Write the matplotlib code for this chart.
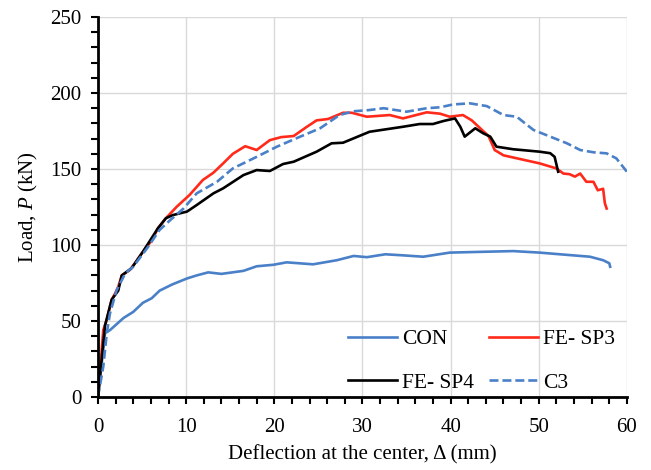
import matplotlib
matplotlib.use('Agg')
import matplotlib.pyplot as plt
from matplotlib.ticker import MultipleLocator

plt.rcParams['font.family'] = ['Liberation Serif', 'DejaVu Serif']
plt.rcParams['mathtext.fontset'] = 'custom'
plt.rcParams['mathtext.rm'] = 'Liberation Serif'
plt.rcParams['mathtext.it'] = 'Liberation Serif:italic'

# CON
con_x = [0, 0.8, 1.36, 2.9, 4.0, 5.1, 6.1, 7.0, 8.4, 10.1, 11.2, 12.5, 14.0, 16.5, 18.0,
         19.9, 21.4, 24.4, 27.1, 29.0, 30.5, 32.6, 34.6, 36.9, 39.9, 44.1, 47.1, 50.1,
         52.4, 55.8, 57.3, 58.0, 58.1]
con_y = [0, 42, 44, 52, 56, 62, 65, 70, 74, 78, 80, 82, 81, 83, 86,
         87, 88.6, 87.3, 90, 92.8, 92, 93.9, 93.2, 92.3, 95, 95.6, 96, 95,
         93.9, 92.3, 90, 88, 85.7]

# FE- SP3
sp3_x = [0, 0.6, 1.0, 1.55, 1.93, 2.3, 2.7, 3.6, 4.2, 5.1, 6.1, 6.8, 7.7, 8.9, 10.4,
         11.9, 13.1, 14.2, 15.3, 16.7, 18.0, 19.5, 20.8, 22.2, 23.7, 24.8, 26.1, 27.8,
         28.8, 30.5, 33.1, 34.6, 37.3, 38.8, 39.9, 41.4, 42.4, 44.3, 45.0, 46.0, 50.1,
         52.0, 52.8, 53.5, 54.1, 54.7, 55.4, 56.2, 56.7, 57.3, 57.5, 57.7]
sp3_y = [0, 44, 51, 64, 68, 72.6, 80, 83.5, 88, 95.6, 103, 111, 117.6, 125, 133,
         142.8, 147.6, 153.7, 160, 165, 162.5, 169, 171, 171.7, 177.8, 182, 182.9, 187,
         187, 184.4, 185.5, 183.3, 187.3, 186.4, 184.4, 185.5, 182, 171.7, 162.5, 159, 153.7,
         150.4, 147, 146.6, 145, 147, 141.6, 141.6, 136, 137, 127.4, 124]

# FE- SP4
sp4_x = [0, 0.8, 1.55, 2.3, 2.7, 3.8, 5.1, 6.8, 7.7, 8.5, 10.1, 11.2, 13.1, 14.2, 16.5,
         18.0, 19.5, 21.0, 22.2, 24.8, 26.5, 27.8, 30.8, 34.6, 36.5, 38.0, 39.2, 40.5,
         41.1, 41.6, 42.8, 43.7, 44.5, 45.2, 47.1, 50.1, 51.3, 51.8, 52.2]
sp4_y = [0, 47, 64, 70, 80, 84.7, 95.6, 111, 117.6, 119.7, 122, 126.3, 134, 137.3, 146,
         149.3, 148.7, 153.3, 154.8, 161.4, 166.9, 167.3, 174.5, 177.8, 179.6, 179.6, 181.6, 183.3,
         177.8, 171.3, 176.8, 173.5, 171.3, 164.7, 163, 161.4, 160.4, 158, 148.2]

# C3
c3_x = [0, 0.6, 1.0, 1.36, 2.1, 3.1, 4.0, 5.7, 7.0, 8.2, 9.7, 11.2, 13.5, 15.3, 18.0,
        20.3, 22.5, 25.2, 27.4, 29.0, 30.8, 32.4, 35.0, 37.3, 38.8, 40.3, 42.2, 44.1,
        46.0, 47.5, 49.4, 51.3, 53.2, 54.7, 56.2, 57.7, 58.8, 60.0]
c3_y = [0, 20, 42, 55, 70, 81.4, 85.7, 98.9, 110, 116.4, 124, 134, 141.6, 150.4, 158,
        164.7, 170.2, 176.8, 185.5, 188, 188.8, 190, 187.7, 190, 190.6, 192.5, 193.2, 191.4,
        185.5, 184.4, 175.7, 171.3, 166.9, 162.5, 161, 160.3, 157, 148.2]

blue = '#4a80c8'
fs = 15
fig = plt.figure(figsize=(6.51, 4.70), dpi=100)
ax = fig.add_axes([0.1505, 0.1553, 0.8125, 0.8085])

l_con, = ax.plot(con_x, con_y, color=blue, lw=1.9, label='CON')
l_sp3, = ax.plot(sp3_x, sp3_y, color='#ff2a1a', lw=1.9, label='FE- SP3')
l_sp4, = ax.plot(sp4_x, sp4_y, color='black', lw=1.9, label='FE- SP4')
l_c3, = ax.plot(c3_x, c3_y, color=blue, lw=1.9, ls=(0, (3.4, 1.5)), label='C3')

ax.set_xlim(0, 60)
ax.set_ylim(0, 250)
ax.xaxis.set_major_locator(MultipleLocator(10))
ax.xaxis.set_minor_locator(MultipleLocator(2))
ax.yaxis.set_major_locator(MultipleLocator(50))
ax.yaxis.set_minor_locator(MultipleLocator(10))
ax.tick_params(which='both', direction='out', width=1.5, length=5, labelsize=fs, color='black')
ax.tick_params(axis='x', which='major', pad=10)
ax.tick_params(axis='y', which='major', pad=7)
ax.grid(True, which='major', color='#d9d9d9', lw=1)
ax.set_axisbelow(True)
for s in ['top', 'right']:
    ax.spines[s].set_visible(False)
for s in ['left', 'bottom']:
    ax.spines[s].set_linewidth(2)

ax.set_xlabel('Deflection at the center, Δ (mm)', fontsize=fs, labelpad=6)
ax.set_ylabel('Load, $P$ (kN)', fontsize=fs, labelpad=7)

# row-wise order: CON, FE- SP3 / FE- SP4, C3
ax.legend([l_con, l_sp4, l_sp3, l_c3], ['CON', 'FE- SP4', 'FE- SP3', 'C3'],
          ncol=2, frameon=False, fontsize=15.5, loc='lower right',
          bbox_to_anchor=(1.014, -0.04), handlelength=2.25, handletextpad=0.25,
          columnspacing=0.7, labelspacing=1.1)

fig.savefig('out.png', dpi=100)
